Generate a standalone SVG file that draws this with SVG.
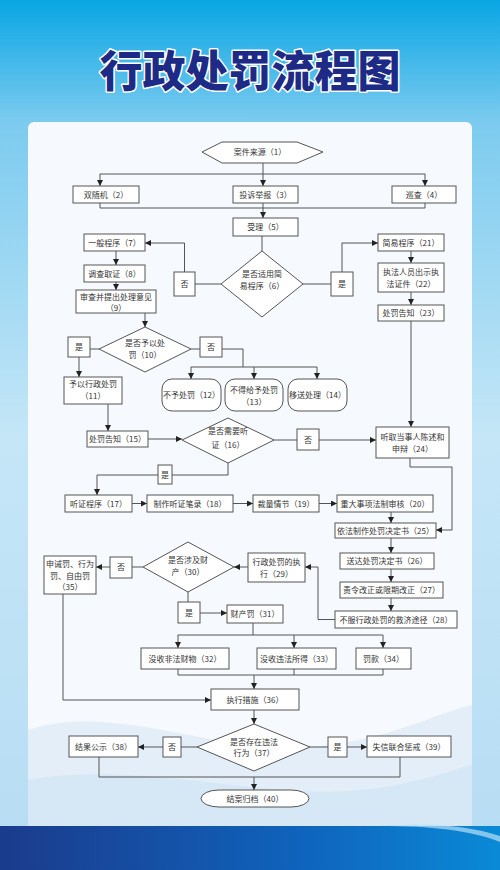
<svg xmlns="http://www.w3.org/2000/svg" width="500" height="870" viewBox="0 0 500 870">
<defs>
<linearGradient id="bgTop" x1="0" y1="0" x2="0" y2="1">
<stop offset="0" stop-color="#08a6e4"/>
<stop offset="0.14" stop-color="#7ccbef"/>
<stop offset="0.5" stop-color="#c4e6f7"/>
<stop offset="1" stop-color="#b7dcf3"/>
</linearGradient>
<linearGradient id="band" x1="0" y1="0" x2="1" y2="0">
<stop offset="0" stop-color="#1b3b8c"/>
<stop offset="0.6" stop-color="#0f63bc"/>
<stop offset="1" stop-color="#0a8ad6"/>
</linearGradient>
<marker id="ar" markerUnits="userSpaceOnUse" markerWidth="6" markerHeight="6" refX="6" refY="3" orient="auto">
<path d="M0,0 L6,3 L0,6 z" fill="#222"/>
</marker>
<style>
.box{fill:#ffffff;stroke:#555555;stroke-width:1}
.t{font-family:"Noto Sans CJK SC","Noto Sans",sans-serif;font-size:8px;fill:#333333;text-anchor:middle}
.ln{fill:none;stroke:#555555;stroke-width:1}
.ar{fill:none;stroke:#555555;stroke-width:1;marker-end:url(#ar)}
</style>
</defs>
<g id="background">
<rect x="0" y="0" width="500" height="870" fill="url(#bgTop)"/>
<rect x="28" y="122" width="444" height="712" rx="6" fill="#f6f9fd"/>
<path d="M28,730 C120,700 220,760 330,745 C400,735 440,712 472,705 L472,826 L28,826 Z" fill="#e3eef8"/>
<path d="M28,780 C140,760 260,800 360,790 C420,784 450,770 472,765 L472,826 L28,826 Z" fill="#d6e7f5"/>
<rect x="0" y="826" width="500" height="44" fill="url(#band)"/>
<path d="M380,826 C430,826 470,830 500,842 L500,836 C470,826 430,822 380,826 Z" fill="#b9e0f5" opacity="0.7"/>
</g>
<text x="250" y="87" text-anchor="middle" font-family="&quot;Noto Sans CJK SC&quot;,sans-serif" font-size="43" font-weight="900" fill="#1e2b86" stroke="#ffffff" stroke-width="3" paint-order="stroke" stroke-linejoin="round">行政处罚流程图</text>

<g id="connectors">
<path class="ar" d="M263,163 V186"/>
<path class="ln" d="M100,174 H425"/>
<path class="ar" d="M100,174 V186"/>
<path class="ar" d="M425,174 V186"/>
<path class="ln" d="M100,203 V208 H425 V203"/>
<path class="ar" d="M263,203 V218"/>
<path class="ln" d="M262,236 V251"/>
<path class="ln" d="M221,284 H195"/>
<path class="ar" d="M184.5,272 V243 H145"/>
<path class="ln" d="M303,284 H331"/>
<path class="ar" d="M342,272 V243 H378"/>
<path class="ar" d="M116,251 V265"/>
<path class="ar" d="M116,282 V290"/>
<path class="ar" d="M411,251 V263"/>
<path class="ar" d="M411,292 V305"/>
<path class="ar" d="M411,321 V427"/>
<path class="ar" d="M145,313 V327"/>
<path class="ln" d="M90,349 H99"/>
<path class="ar" d="M79,357 V377"/>
<path class="ln" d="M191,349 H200"/>
<path class="ln" d="M222,349 H243 V367"/>
<path class="ln" d="M191,367 H317"/>
<path class="ar" d="M191,367 V379"/>
<path class="ar" d="M254,367 V379"/>
<path class="ar" d="M317,367 V379"/>
<path class="ar" d="M108,404 V431"/>
<path class="ar" d="M148,439 H182"/>
<path class="ln" d="M274,440 H297"/>
<path class="ar" d="M319,440 H376"/>
<path class="ln" d="M228,463 V475 H172"/>
<path class="ar" d="M158,475 H97 V495"/>
<path class="ar" d="M132,503.5 H147"/>
<path class="ar" d="M233,503.5 H253"/>
<path class="ar" d="M319,503.5 H337"/>
<path class="ar" d="M410,458 V467 H452 V530 H436"/>
<path class="ar" d="M391,512 V523"/>
<path class="ar" d="M391,538 V553"/>
<path class="ar" d="M391,569 V582"/>
<path class="ar" d="M391,598 V611"/>
<path class="ar" d="M335,619.5 H318 V567 H305"/>
<path class="ar" d="M248,567 H234"/>
<path class="ln" d="M143,567 H132"/>
<path class="ar" d="M110,567 H96"/>
<path class="ln" d="M188,592 V602"/>
<path class="ar" d="M200,613 H227"/>
<path class="ln" d="M253,623 V635"/>
<path class="ln" d="M178,635 H383"/>
<path class="ar" d="M178,635 V648"/>
<path class="ar" d="M294,635 V648"/>
<path class="ar" d="M383,635 V648"/>
<path class="ln" d="M178,669 V675 H383 V669"/>
<path class="ln" d="M294,669 V675"/>
<path class="ar" d="M254,675 V689"/>
<path class="ar" d="M63,594 V700 H211"/>
<path class="ar" d="M254,710 V724"/>
<path class="ln" d="M197,747 H181"/>
<path class="ar" d="M163,747 H138"/>
<path class="ln" d="M310,747 H328"/>
<path class="ar" d="M347,747 H367"/>
<path class="ln" d="M99,757 V777 H400 V757"/>
<path class="ar" d="M254,777 V790"/>
</g>

<g id="n1"><polygon class="box" points="202,152 222,142 297,142 323,152 297,163 222,163"/><text class="t" x="260" y="155">案件来源（1）</text></g>
<g id="n2"><rect class="box" x="73" y="186" width="66" height="17"/><text class="t" x="106" y="197.5">双随机（2）</text></g>
<g id="n3"><rect class="box" x="233" y="186" width="65" height="17"/><text class="t" x="265.5" y="197.5">投诉举报（3）</text></g>
<g id="n4"><rect class="box" x="392" y="186" width="64" height="17"/><text class="t" x="424" y="197.5">巡查（4）</text></g>
<g id="n5"><rect class="box" x="233" y="218" width="65" height="18"/><text class="t" x="265.5" y="230">受理（5）</text></g>
<g id="n6"><polygon class="box" points="262,251 303,284 262,317 221,284"/><text class="t" x="262" y="277">是否适用简</text><text class="t" x="262" y="289">易程序（6）</text></g>
<g id="n6no"><rect class="box" x="174" y="272" width="21" height="24"/><text class="t" x="184.5" y="287">否</text></g>
<g id="n6yes"><rect class="box" x="331" y="272" width="22" height="24"/><text class="t" x="342" y="287">是</text></g>
<g id="n7"><rect class="box" x="84" y="234" width="61" height="17"/><text class="t" x="114.5" y="245.5">一般程序（7）</text></g>
<g id="n8"><rect class="box" x="84" y="265" width="61" height="17"/><text class="t" x="114.5" y="276.5">调查取证（8）</text></g>
<g id="n9"><rect class="box" x="76" y="290" width="80" height="23"/><text class="t" x="116" y="300">审查并提出处理意见</text><text class="t" x="116" y="311">（9）</text></g>
<g id="n21"><rect class="box" x="378" y="234" width="66" height="17"/><text class="t" x="411" y="245.5">简易程序（21）</text></g>
<g id="n22"><rect class="box" x="378" y="263" width="66" height="29"/><text class="t" x="411" y="275">执法人员出示执</text><text class="t" x="411" y="287">法证件（22）</text></g>
<g id="n23"><rect class="box" x="378" y="305" width="66" height="16"/><text class="t" x="411" y="316">处罚告知（23）</text></g>
<g id="n10"><polygon class="box" points="145,327 191,349 145,372 99,349"/><text class="t" x="145" y="346">是否予以处</text><text class="t" x="145" y="358">罚（10）</text></g>
<g id="n10yes"><rect class="box" x="68" y="337" width="22" height="20"/><text class="t" x="79" y="350">是</text></g>
<g id="n10no"><rect class="box" x="200" y="337" width="22" height="20"/><text class="t" x="211" y="350">否</text></g>
<g id="n11"><rect class="box" x="64" y="377" width="58" height="27"/><text class="t" x="93" y="387">予以行政处罚</text><text class="t" x="93" y="399">（11）</text></g>
<g id="n12"><rect class="box" x="162" y="379" width="59" height="32" rx="10"/><text class="t" x="191.5" y="398">不予处罚（12）</text></g>
<g id="n13"><rect class="box" x="225" y="379" width="58" height="32" rx="10"/><text class="t" x="254" y="393">不得给予处罚</text><text class="t" x="254" y="405">（13）</text></g>
<g id="n14"><rect class="box" x="288" y="379" width="59" height="32" rx="10"/><text class="t" x="317.5" y="398">移送处理（14）</text></g>
<g id="n15"><rect class="box" x="87" y="431" width="61" height="16"/><text class="t" x="117.5" y="442">处罚告知（15）</text></g>
<g id="n16"><polygon class="box" points="228,418 274,440 228,463 182,440"/><text class="t" x="228" y="434">是否需要听</text><text class="t" x="228" y="448">证（16）</text></g>
<g id="n16no"><rect class="box" x="297" y="429" width="22" height="21"/><text class="t" x="308" y="442.5">否</text></g>
<g id="n16yes"><rect class="box" x="158" y="465" width="14" height="19"/><text class="t" x="165" y="477.5">是</text></g>
<g id="n24"><rect class="box" x="376" y="427" width="73" height="31"/><text class="t" x="412.5" y="440">听取当事人陈述和</text><text class="t" x="412.5" y="452">申辩（24）</text></g>
<g id="n17"><rect class="box" x="65" y="495" width="67" height="17"/><text class="t" x="98.5" y="506.5">听证程序（17）</text></g>
<g id="n18"><rect class="box" x="147" y="495" width="86" height="17"/><text class="t" x="190" y="506.5">制作听证笔录（18）</text></g>
<g id="n19"><rect class="box" x="253" y="495" width="66" height="17"/><text class="t" x="286" y="506.5">裁量情节（19）</text></g>
<g id="n20"><rect class="box" x="337" y="495" width="96" height="17"/><text class="t" x="385" y="506.5">重大事项法制审核（20）</text></g>
<g id="n25"><rect class="box" x="335" y="523" width="101" height="15"/><text class="t" x="385.5" y="533.5">依法制作处罚决定书（25）</text></g>
<g id="n26"><rect class="box" x="340" y="553" width="94" height="16"/><text class="t" x="387" y="564">送达处罚决定书（26）</text></g>
<g id="n27"><rect class="box" x="340" y="582" width="103" height="16"/><text class="t" x="391.5" y="593">责令改正或限期改正（27）</text></g>
<g id="n28"><rect class="box" x="335" y="611" width="122" height="17"/><text class="t" x="396" y="622.5">不服行政处罚的救济途径（28）</text></g>
<g id="n29"><rect class="box" x="248" y="553" width="57" height="29"/><text class="t" x="276.5" y="565">行政处罚的执</text><text class="t" x="276.5" y="577">行（29）</text></g>
<g id="n30"><polygon class="box" points="188,542 234,567 188,592 143,567"/><text class="t" x="188" y="563">是否涉及财</text><text class="t" x="188" y="575">产（30）</text></g>
<g id="n30no"><rect class="box" x="110" y="557" width="22" height="21"/><text class="t" x="121" y="570">否</text></g>
<g id="n30yes"><rect class="box" x="178" y="602" width="22" height="21"/><text class="t" x="189" y="615.5">是</text></g>
<g id="n35"><rect class="box" x="44" y="556" width="52" height="38"/><text class="t" x="70" y="567">申诫罚、行为</text><text class="t" x="70" y="579">罚、自由罚</text><text class="t" x="70" y="590">（35）</text></g>
<g id="n31"><rect class="box" x="227" y="605" width="56" height="18"/><text class="t" x="255" y="617">财产罚（31）</text></g>
<g id="n32"><rect class="box" x="141" y="648" width="88" height="21"/><text class="t" x="185" y="661.5">没收非法财物（32）</text></g>
<g id="n33"><rect class="box" x="257" y="648" width="79" height="21"/><text class="t" x="296.5" y="661.5">没收违法所得（33）</text></g>
<g id="n34"><rect class="box" x="356" y="648" width="55" height="21"/><text class="t" x="383.5" y="661.5">罚款（34）</text></g>
<g id="n36"><rect class="box" x="211" y="689" width="88" height="21"/><text class="t" x="255" y="702.5">执行措施（36）</text></g>
<g id="n37"><polygon class="box" points="254,724 310,747 254,771 197,747"/><text class="t" x="254" y="745">是否存在违法</text><text class="t" x="254" y="756">行为（37）</text></g>
<g id="n37no"><rect class="box" x="163" y="737" width="18" height="20"/><text class="t" x="172" y="750">否</text></g>
<g id="n37yes"><rect class="box" x="328" y="737" width="19" height="20"/><text class="t" x="337.5" y="750">是</text></g>
<g id="n38"><rect class="box" x="69" y="736" width="69" height="21"/><text class="t" x="103.5" y="749.5">结果公示（38）</text></g>
<g id="n39"><rect class="box" x="367" y="736" width="84" height="21"/><text class="t" x="409" y="749.5">失信联合惩戒（39）</text></g>
<g id="n40"><rect class="box" x="201" y="790" width="108" height="17" rx="18" ry="8.5"/><text class="t" x="255" y="801.5">结案归档（40）</text></g>
</svg>
